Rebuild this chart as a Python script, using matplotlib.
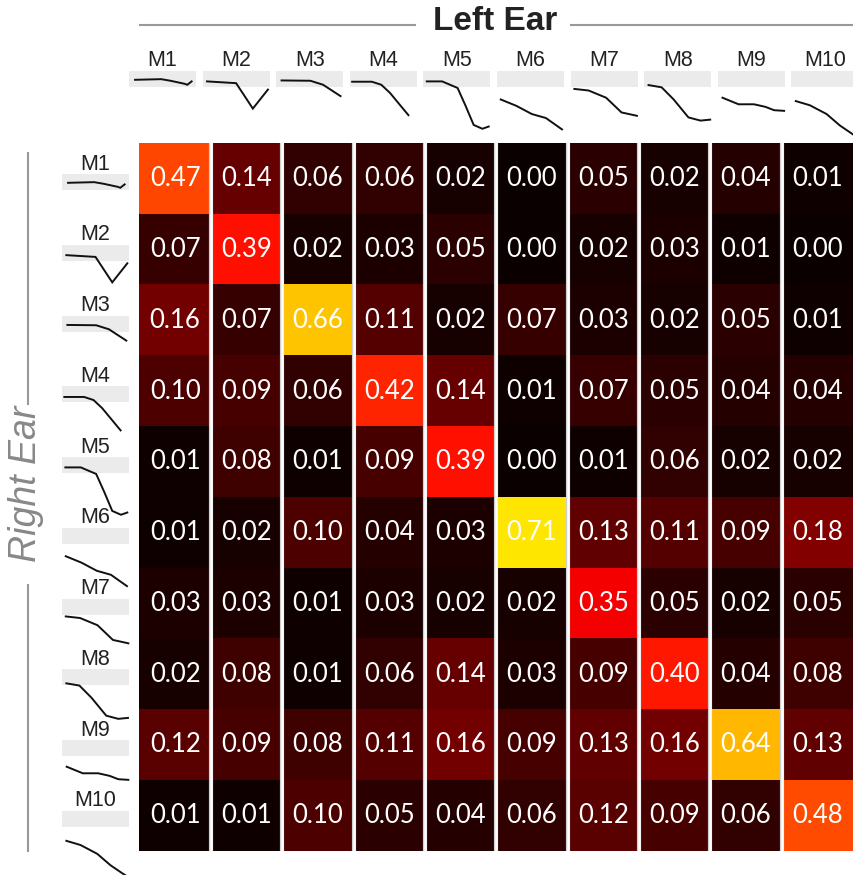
import numpy as np
import matplotlib
matplotlib.use("Agg")
import matplotlib.pyplot as plt

# Agreement matrix: rows = right-ear model, columns = left-ear model
models = ["M1", "M2", "M3", "M4", "M5", "M6", "M7", "M8", "M9", "M10"]
agreement = np.array([
    [0.47, 0.14, 0.06, 0.06, 0.02, 0.00, 0.05, 0.02, 0.04, 0.01],
    [0.07, 0.39, 0.02, 0.03, 0.05, 0.00, 0.02, 0.03, 0.01, 0.00],
    [0.16, 0.07, 0.66, 0.11, 0.02, 0.07, 0.03, 0.02, 0.05, 0.01],
    [0.10, 0.09, 0.06, 0.42, 0.14, 0.01, 0.07, 0.05, 0.04, 0.04],
    [0.01, 0.08, 0.01, 0.09, 0.39, 0.00, 0.01, 0.06, 0.02, 0.02],
    [0.01, 0.02, 0.10, 0.04, 0.03, 0.71, 0.13, 0.11, 0.09, 0.18],
    [0.03, 0.03, 0.01, 0.03, 0.02, 0.02, 0.35, 0.05, 0.02, 0.05],
    [0.02, 0.08, 0.01, 0.06, 0.14, 0.03, 0.09, 0.40, 0.04, 0.08],
    [0.12, 0.09, 0.08, 0.11, 0.16, 0.09, 0.13, 0.16, 0.64, 0.13],
    [0.01, 0.01, 0.10, 0.05, 0.04, 0.06, 0.12, 0.09, 0.06, 0.48],
])

# Representative profile of each model (x: relative position, y: level)
profile_x = [
    [0.09, 0.48, 0.62, 0.83, 0.87, 0.935],
    [0.065, 0.50, 0.75, 0.975],
    [0.08, 0.51, 0.70, 0.85, 0.96],
    [0.035, 0.33, 0.47, 0.60, 0.76, 0.875],
    [0.05, 0.28, 0.51, 0.63, 0.75, 0.88, 0.975],
    [0.056, 0.29, 0.52, 0.73, 0.97],
    [0.056, 0.27, 0.53, 0.76, 0.99],
    [0.065, 0.26, 0.44, 0.66, 0.84, 0.985],
    [0.07, 0.31, 0.54, 0.71, 0.84, 0.99],
    [0.065, 0.275, 0.525, 0.725, 0.925, 1.05],
]
profile_y = [
    [-0.55, -0.51, -0.61, -0.80, -0.86, -0.65],
    [-0.65, -0.76, -2.35, -1.16],
    [-0.59, -0.61, -0.86, -1.27, -1.57],
    [-0.67, -0.67, -0.86, -1.37, -2.18, -2.76],
    [-0.65, -0.65, -1.06, -2.18, -3.37, -3.61, -3.47],
    [-1.78, -2.18, -2.69, -2.94, -3.65],
    [-1.12, -1.22, -1.67, -2.59, -2.80],
    [-0.88, -1.02, -1.78, -2.90, -3.10, -3.04],
    [-1.67, -2.08, -2.08, -2.24, -2.45, -2.49],
    [-1.88, -2.14, -2.69, -3.41, -3.98, -4.30],
]

W, H = 854, 875
fig = plt.figure(figsize=(W / 100, H / 100), dpi=100)


def px_axes(x0, y0, x1, y1):
    """Axes from pixel box (top-left origin)."""
    return fig.add_axes([x0 / W, 1 - y1 / H, (x1 - x0) / W, (y1 - y0) / H])


# Heatmap
hx0, hy0, hx1, hy1 = 139.5, 143.5, 853.0, 851.0
ax = px_axes(hx0, hy0, hx1, hy1)
n = len(models)
ax.imshow(agreement, cmap="hot", vmin=0, vmax=1, aspect="auto",
          interpolation="nearest", extent=(-0.5, n - 0.5, n - 0.5, -0.5))
for i in range(n):
    for j in range(n):
        ax.text(j, i, f"{agreement[i, j]:.2f}", ha="center", va="center",
                color="white", fontsize=18.5, family="Lato")
for j in range(1, n):
    ax.axvline(j - 0.5, color="#d0d0d0", lw=3.0)
    ax.axvline(j - 0.5, color="white", lw=1.8)
ax.set_xlim(-0.5, n - 0.5)
ax.set_ylim(n - 0.5, -0.5)
ax.axis("off")

band_h = 16.0
ylo = -4.4


def thumbnail(x0, band_top, k):
    w = 67.0
    tax = px_axes(x0, band_top, x0 + w, band_top + band_h * (-ylo))
    tax.axhspan(-1, 0, color="#ebebeb", lw=0)
    tax.plot(profile_x[k], profile_y[k], color="#111111", lw=1.4,
             clip_on=False, solid_joinstyle="miter")
    tax.set_xlim(0, 1)
    tax.set_ylim(ylo, 0)
    tax.axis("off")
    return x0 + w / 2


# Column thumbnails (left ear)
col_step = 73.6
for j in range(n):
    x0 = 129 + col_step * j
    cx = thumbnail(x0, 71, j)
    fig.text(cx / W, 1 - 60 / H, models[j], ha="center", va="center",
             fontsize=15.5, family="Liberation Sans", color="#222222")

# Row thumbnails (right ear)
row_step = (hy1 - hy0) / n
for i in range(n):
    top = 174 + row_step * i
    cx = thumbnail(62, top, i)
    fig.text(cx / W, 1 - (top - 10) / H, models[i], ha="center",
             va="center", fontsize=15.5, family="Liberation Sans",
             color="#222222")

# Group titles with rules
fig.text(495 / W, 1 - 22 / H, "Left Ear", ha="center", va="center",
         fontsize=24, fontweight="bold", family="Liberation Sans",
         color="#222222")
fig.add_artist(plt.Line2D([140 / W, 415 / W], [1 - 25 / H, 1 - 25 / H],
                          color="#999999", lw=1.5))
fig.add_artist(plt.Line2D([571 / W, 1.0], [1 - 25 / H, 1 - 25 / H],
                          color="#999999", lw=1.5))

fig.text(26 / W, 1 - 484 / H, "Right Ear", ha="center", va="center",
         rotation=90, fontsize=27, fontstyle="italic",
         family="Liberation Sans", color="#888888")
fig.add_artist(plt.Line2D([28 / W, 28 / W], [1 - 153 / H, 1 - 404 / H],
                          color="#999999", lw=1.5))
fig.add_artist(plt.Line2D([28 / W, 28 / W], [1 - 585 / H, 1 - 851 / H],
                          color="#999999", lw=1.5))

fig.savefig("out.png", dpi=100)
